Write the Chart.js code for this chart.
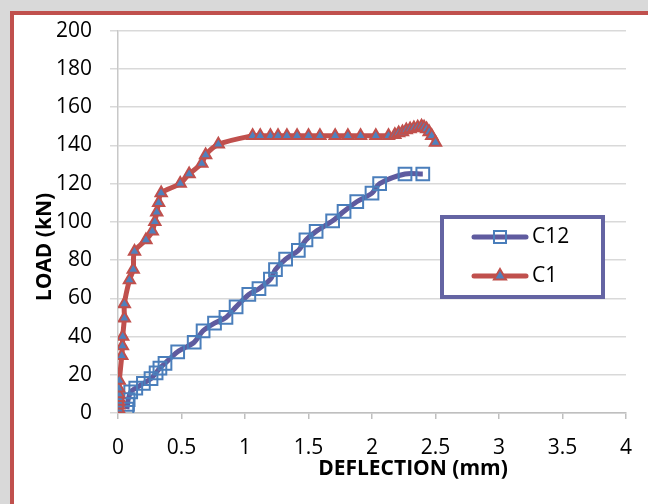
<!DOCTYPE html>
<html>
<head>
<meta charset="utf-8">
<script src="https://cdn.jsdelivr.net/npm/chart.js@4.4.0/dist/chart.umd.min.js"></script>
<style>
  html, body { margin: 0; padding: 0; overflow: hidden; }
  body { width: 648px; height: 504px; background: #d9d9d9; position: relative; }
  .pane { position: absolute; left: 10px; top: 11px; width: 638px; height: 493px; background: #fff; }
  .edge { position: absolute; background: #c0504d; }
  #chart { position: absolute; left: 0; top: 0; }
</style>
</head>
<body>
<div class="pane"></div>
<div class="edge" style="left:10px; top:11px; width:638px; height:4px;"></div>
<div class="edge" style="left:10px; top:11px; width:4px; height:493px;"></div>
<canvas id="chart" width="648" height="504"></canvas>
<script>
// values
const c12_deflection = [0.07, 0.075, 0.08, 0.1, 0.14, 0.2, 0.26, 0.3, 0.33, 0.37, 0.47, 0.6, 0.67, 0.76, 0.85, 0.93, 1.03, 1.11, 1.2, 1.24, 1.32, 1.42, 1.48, 1.56, 1.69, 1.78, 1.88, 2.0, 2.06, 2.26, 2.4];
const c12_load = [2, 4.5, 7, 11, 13, 15.5, 18, 21, 23.5, 26, 32, 37, 43, 47, 50, 55.5, 62, 65, 70, 75, 80.5, 85, 90.5, 95, 100.5, 105.5, 110.5, 115, 120, 125, 125];

const c1_deflection = [0.005, 0.005, 0.005, 0.005, 0.005, 0.005, 0.005, 0.01, 0.03, 0.035, 0.037, 0.05, 0.05, 0.09, 0.12, 0.13, 0.22, 0.27, 0.29, 0.305, 0.32, 0.34, 0.49, 0.56, 0.66, 0.69, 0.79, 1.06, 1.12, 1.2, 1.26, 1.33, 1.41, 1.5, 1.59, 1.71, 1.81, 1.91, 2.03, 2.13, 2.18, 2.21, 2.24, 2.27, 2.3, 2.33, 2.36, 2.39, 2.41, 2.43, 2.45, 2.47, 2.5];
const c1_load = [0, 2, 4, 6, 8, 10, 13, 17, 30, 35, 40, 49.5, 57, 69.5, 75, 84.5, 90.5, 95, 100, 105, 110, 115, 120, 125, 130.5, 135, 140.5, 145, 145, 145, 145, 145, 145, 145, 145, 145, 145, 145, 145, 145, 145.5, 146.5, 147, 148, 148.5, 149, 149.5, 150, 149.5, 148.5, 147, 145, 141.5];

const x_ticks = [0, 0.5, 1, 1.5, 2, 2.5, 3, 3.5, 4];
const y_ticks = [0, 20, 40, 60, 80, 100, 120, 140, 160, 180, 200];

const x_title = "DEFLECTION (mm)";
const y_title = "LOAD (kN)";

const FONT = "'Open Sans', 'DejaVu Sans', sans-serif";

function toPoints(xs, ys) {
  return xs.map((x, i) => ({ x: x, y: ys[i] }));
}

const datasets = [
  {
    label: "C12",
    data: toPoints(c12_deflection, c12_load),
    borderColor: "#5f5b9f",
    borderWidth: 5,
    tension: 0.3,
    pointStyle: "rect",
    pointRadius: 9,
    pointBorderWidth: 2,
    pointBorderColor: "#4a7ebb",
    pointBackgroundColor: "rgba(0,0,0,0)",
    order: 2,
  },
  {
    label: "C1",
    data: toPoints(c1_deflection, c1_load),
    borderColor: "#c0504d",
    borderWidth: 5,
    tension: 0.3,
    pointStyle: "triangle",
    pointRadius: 6.5,
    pointBorderWidth: 2,
    pointBorderColor: "#c0504d",
    pointBackgroundColor: "#4f81bd",
    order: 1,
  },
];

// axis titles + boxed legend, placed like the original
const extras = {
  id: "extras",
  afterDraw(chart) {
    const ctx = chart.ctx;
    ctx.save();
    ctx.fillStyle = "#000";
    ctx.font = "bold 21px " + FONT;
    ctx.textAlign = "center";
    ctx.textBaseline = "middle";
    ctx.fillText(x_title, 413, 469);
    ctx.translate(45, 247);
    ctx.rotate(-Math.PI / 2);
    ctx.fillText(y_title, 0, 0);
    ctx.restore();

    // legend box
    ctx.save();
    ctx.fillStyle = "#fff";
    ctx.fillRect(442, 217, 161, 80);
    ctx.strokeStyle = "#6464a3";
    ctx.lineWidth = 4;
    ctx.strokeRect(442, 217, 161, 80);
    const rows = [237, 276];
    datasets.forEach((ds, i) => {
      const y = rows[i];
      ctx.strokeStyle = ds.borderColor;
      ctx.lineWidth = 5;
      ctx.lineCap = "round";
      ctx.beginPath();
      ctx.moveTo(474, y);
      ctx.lineTo(526, y);
      ctx.stroke();
      ctx.fillStyle = ds.pointBackgroundColor;
      ctx.strokeStyle = ds.pointBorderColor;
      ctx.lineWidth = ds.pointBorderWidth;
      Chart.helpers.drawPoint(ctx, {
        pointStyle: ds.pointStyle,
        radius: ds.pointStyle === "rect" ? 8.5 : 7,
        borderWidth: ds.pointBorderWidth,
        rotation: 0,
      }, 500, y);
      ctx.fillStyle = "#000";
      ctx.font = "21px " + FONT;
      ctx.textAlign = "left";
      ctx.textBaseline = "middle";
      ctx.fillText(ds.label, 532, y);
    });
    ctx.restore();
  },
};

const ctx = document.getElementById("chart").getContext("2d");

const my_chart = new Chart(ctx, {
  type: "line",
  data: { datasets: datasets },
  options: {
    responsive: false,
    animation: false,
    layout: { padding: { top: 29, right: 14, left: 0, bottom: 0 } },
    plugins: { legend: { display: false }, tooltip: { enabled: false } },
    scales: {
      x: {
        type: "linear",
        min: 0,
        max: 4,
        afterFit(scale) { scale.height = 91; },
        afterBuildTicks(scale) { scale.ticks = x_ticks.map((v) => ({ value: v })); },
        grid: { drawOnChartArea: false, drawTicks: true, tickLength: 6, color: "#bfbfbf", lineWidth: 1.5 },
        border: { color: "#bfbfbf", width: 1.5 },
        ticks: {
          color: "#000",
          font: { family: FONT, size: 21 },
          padding: 16,
          maxRotation: 0,
          autoSkip: false,
          callback: (v) => String(v),
        },
      },
      y: {
        type: "linear",
        min: 0,
        max: 200,
        afterFit(scale) { scale.width = 118; },
        afterBuildTicks(scale) { scale.ticks = y_ticks.map((v) => ({ value: v })); },
        grid: { color: "#d9d9d9", lineWidth: 1.5, tickLength: 8 },
        border: { color: "#c8c8c8", width: 1.5 },
        ticks: { color: "#000", font: { family: FONT, size: 21 }, padding: 18, autoSkip: false },
      },
    },
  },
  plugins: [extras],
});
</script>
</body>
</html>
